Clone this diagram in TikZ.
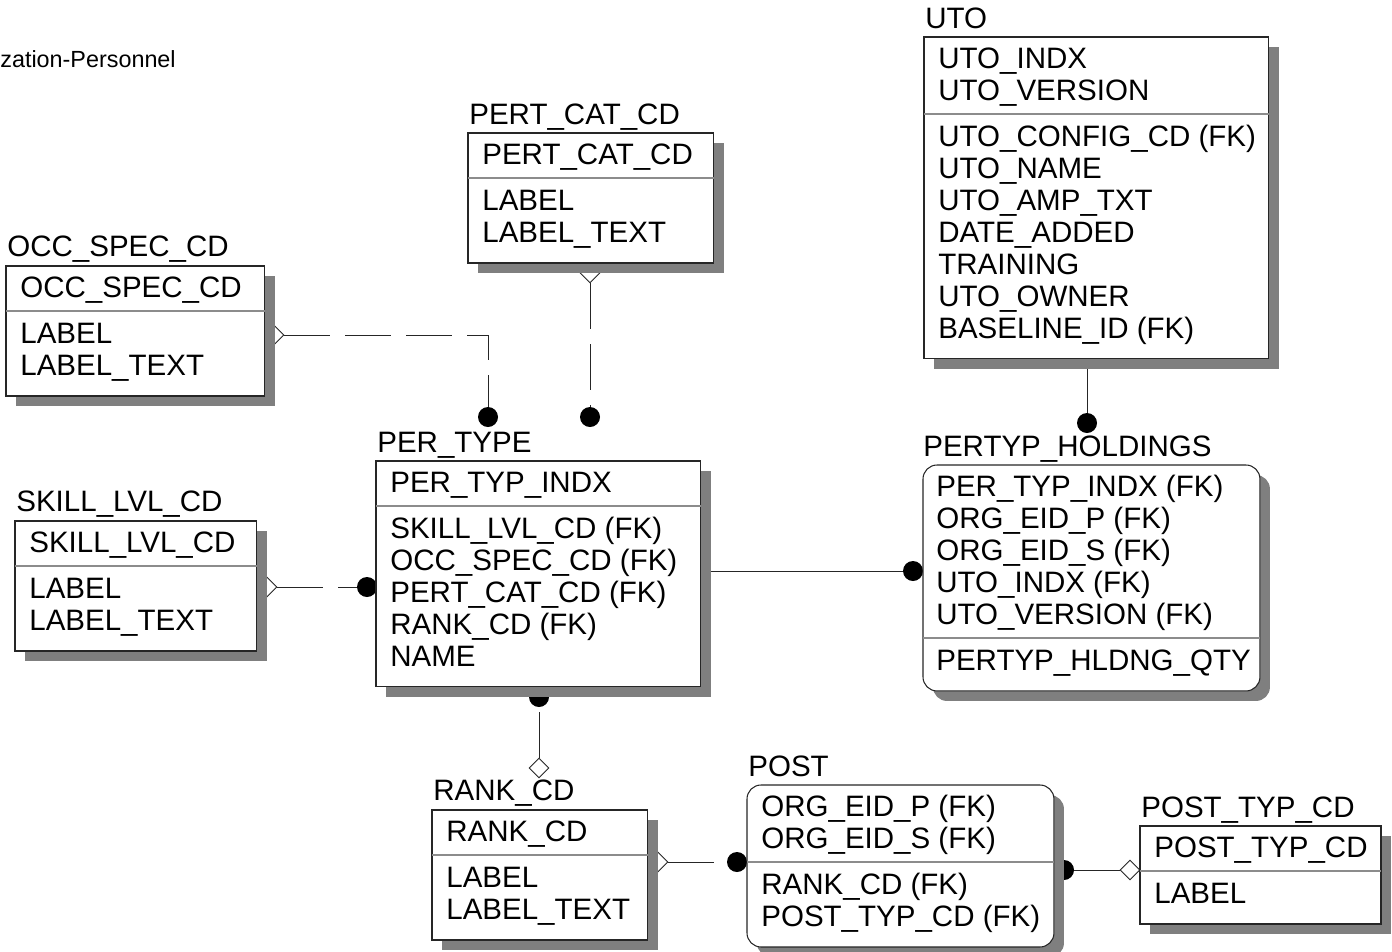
\documentclass[tikz,border=0pt]{standalone}
\usepackage{fontspec}
\setmainfont{Liberation Sans}
\usetikzlibrary{shapes.geometric,shadows,backgrounds}
\definecolor{Shade}{HTML}{7F7F7F}
\definecolor{Rule}{HTML}{8C8C8C}
\tikzset{
  entbox/.style={
    rectangle, draw=black!85, fill=white, line width=0.6pt, anchor=north west,
    inner sep=0pt, outer sep=0pt,
    drop shadow={shadow xshift=0.2cm, shadow yshift=-0.2cm, fill=Shade, opacity=1}
  },
  entround/.style={entbox, rounded corners=0.28cm},
  enttitle/.style={anchor=base west, inner sep=0pt, font=\fontsize{16.8}{18.2}\selectfont},
  entattr/.style={anchor=base west, inner sep=0pt, align=left, font=\fontsize{16.8}{18.2}\selectfont},
  entrule/.style={Rule, line width=0.6pt},
  reldot/.style={circle, fill=black, inner sep=0pt, minimum size=0.4cm},
  reldia/.style={diamond, draw=black!85, fill=white, inner sep=0pt, minimum size=0.4cm, line width=0.5pt},
  relid/.style={black!85, line width=0.55pt},
  relnon/.style={relid, dash pattern=on 0.92cm off 0.3cm},
}
\begin{document}
\begin{tikzpicture}[x=0.02cm, y=-0.02cm]
    \useasboundingbox (0,0) rectangle (1392,951);
    \node[enttitle, font=\fontsize{13.3}{15}\selectfont] (diagname) at (0,67) {zation-Personnel};

    \node[enttitle] (pertcat-t) at (469,124) {PERT\_CAT\_CD};
    \node[entbox, minimum width=4.92cm, minimum height=2.6cm] (pertcat) at (468,133) {};
    \draw[entrule] (pertcat.west |- 0,178) -- (pertcat.east |- 0,178);
    \node[entattr] (pertcat-k) at (482,164) {PERT\_CAT\_CD};
    \node[entattr] (pertcat-a) at (482,242) {LABEL\\LABEL\_TEXT};

    \node[enttitle] (occ-t) at (7,256) {OCC\_SPEC\_CD};
    \node[entbox, minimum width=5.18cm, minimum height=2.6cm] (occ) at (6,266) {};
    \draw[entrule] (occ.west |- 0,311) -- (occ.east |- 0,311);
    \node[entattr] (occ-k) at (20,297) {OCC\_SPEC\_CD};
    \node[entattr] (occ-a) at (20,375) {LABEL\\LABEL\_TEXT};

    \node[enttitle] (skill-t) at (16,511) {SKILL\_LVL\_CD};
    \node[entbox, minimum width=4.84cm, minimum height=2.6cm] (skill) at (15,521) {};
    \draw[entrule] (skill.west |- 0,566) -- (skill.east |- 0,566);
    \node[entattr] (skill-k) at (29,552) {SKILL\_LVL\_CD};
    \node[entattr] (skill-a) at (29,630) {LABEL\\LABEL\_TEXT};

    \node[enttitle] (pertype-t) at (377,452) {PER\_TYPE};
    \node[entbox, minimum width=6.5cm, minimum height=4.52cm] (pertype) at (376,461) {};
    \draw[entrule] (pertype.west |- 0,506) -- (pertype.east |- 0,506);
    \node[entattr] (pertype-k) at (390,492) {PER\_TYP\_INDX};
    \node[entattr] (pertype-a) at (390,666) {SKILL\_LVL\_CD (FK)\\OCC\_SPEC\_CD (FK)\\PERT\_CAT\_CD (FK)\\RANK\_CD (FK)\\NAME};

    \node[enttitle] (uto-t) at (925,28) {UTO};
    \node[entbox, minimum width=6.9cm, minimum height=6.44cm] (uto) at (924,37) {};
    \draw[entrule] (uto.west |- 0,114) -- (uto.east |- 0,114);
    \node[entattr] (uto-k) at (938,100) {UTO\_INDX\\UTO\_VERSION};
    \node[entattr] (uto-a) at (938,338) {UTO\_CONFIG\_CD (FK)\\UTO\_NAME\\UTO\_AMP\_TXT\\DATE\_ADDED\\TRAINING\\UTO\_OWNER\\BASELINE\_ID (FK)};

    \node[enttitle] (hold-t) at (923,456) {PERTYP\_HOLDINGS};
    \node[entround, minimum width=6.74cm, minimum height=4.52cm] (hold) at (923,465) {};
    \draw[entrule] (hold.west |- 0,638) -- (hold.east |- 0,638);
    \node[entattr] (hold-k) at (936,624) {PER\_TYP\_INDX (FK)\\ORG\_EID\_P (FK)\\ORG\_EID\_S (FK)\\UTO\_INDX (FK)\\UTO\_VERSION (FK)};
    \node[entattr] (hold-a) at (936,670) {PERTYP\_HLDNG\_QTY};

    \node[enttitle] (rank-t) at (433,800) {RANK\_CD};
    \node[entbox, minimum width=4.32cm, minimum height=2.6cm] (rank) at (432,810) {};
    \draw[entrule] (rank.west |- 0,855) -- (rank.east |- 0,855);
    \node[entattr] (rank-k) at (446,841) {RANK\_CD};
    \node[entattr] (rank-a) at (446,919) {LABEL\\LABEL\_TEXT};

    \node[enttitle] (post-t) at (748,776) {POST};
    \node[entround, minimum width=6.14cm, minimum height=3.24cm] (post) at (747,785) {};
    \draw[entrule] (post.west |- 0,862) -- (post.east |- 0,862);
    \node[entattr] (post-k) at (761,848) {ORG\_EID\_P (FK)\\ORG\_EID\_S (FK)};
    \node[entattr] (post-a) at (761,926) {RANK\_CD (FK)\\POST\_TYP\_CD (FK)};

    \node[enttitle] (ptyp-t) at (1141,817) {POST\_TYP\_CD};
    \node[entbox, minimum width=4.82cm, minimum height=1.96cm] (ptyp) at (1140,826) {};
    \draw[entrule] (ptyp.west |- 0,871) -- (ptyp.east |- 0,871);
    \node[entattr] (ptyp-k) at (1154,857) {POST\_TYP\_CD};
    \node[entattr] (ptyp-a) at (1154,903) {LABEL};

    \begin{scope}[on background layer]
      \node[reldia] (occ-dia) at (274,335) {};
      \node[reldot] (pertype-dot1) at (488,417) {};
      \draw[relnon] (occ-dia.east) -| (pertype-dot1.north);
      \node[reldia] (pertcat-dia) at (590,273) {};
      \node[reldot] (pertype-dot2) at (590,417) {};
      \draw[relnon] (pertcat-dia.south) -- (pertype-dot2.north);
      \node[reldia] (skill-dia) at (267,587) {};
      \node[reldot] (pertype-dot3) at (367,587) {};
      \draw[relnon] (skill-dia.east) -- (pertype-dot3.west);
      \node[reldia] (rank-dia1) at (539,768) {};
      \node[reldot] (pertype-dot4) at (539,697) {};
      \draw[relnon] (rank-dia1.north) -- (pertype-dot4.center);
      \node[reldot] (hold-dot1) at (913,571) {};
      \draw[relid] (pertype.east |- hold-dot1.west) -- (hold-dot1.west);
      \node[reldot] (hold-dot2) at (1087,423) {};
      \draw[relid] (uto.south -| hold-dot2.north) -- (hold-dot2.north);
      \node[reldia] (rank-dia2) at (658,862) {};
      \node[reldot] (post-dot1) at (737,862) {};
      \draw[relnon] (rank-dia2.east) -- (post-dot1.west);
      \node[reldia] (ptyp-dia) at (1130,870) {};
      \node[reldot] (post-dot2) at (1064,870) {};
      \draw[relnon] (ptyp-dia.west) -- (post-dot2.center);
    \end{scope}
\end{tikzpicture}
\end{document}
